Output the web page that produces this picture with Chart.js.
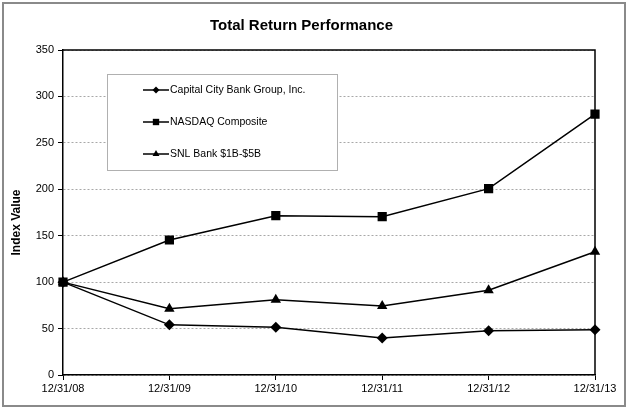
<!DOCTYPE html>
<html>
<head>
<meta charset="utf-8">
<script src="https://cdn.jsdelivr.net/npm/chart.js@4"></script>
<style>
html,body{margin:0;padding:0;background:#fff;}
#wrap{width:628px;height:409px;position:relative;}
</style>
</head>
<body>
<div id="wrap"><canvas id="c" width="628" height="409"></canvas></div>
<script>
const categories = ["12/31/08","12/31/09","12/31/10","12/31/11","12/31/12","12/31/13"];
const capitalCity = [100, 54, 51.3, 39.8, 47.7, 48.8];
const nasdaq = [100, 145.4, 171.6, 170.5, 200.7, 281];
const snlBank = [100, 71.4, 81.1, 74.3, 91.2, 132.8];
const seriesNames = ["Capital City Bank Group, Inc.", "NASDAQ Composite", "SNL Bank $1B-$5B"];
const yTicks = [0, 50, 100, 150, 200, 250, 300, 350];
const yTitle = "Index Value";

const FONT = "'Liberation Sans', Arial, sans-serif";

const framePlugin = {
  id: 'frame',
  beforeDraw(chart) {
    const ctx = chart.ctx;
    ctx.save();
    ctx.fillStyle = '#fff';
    ctx.fillRect(0, 0, chart.width, chart.height);
    ctx.strokeStyle = '#8a8a8a';
    ctx.lineWidth = 2;
    ctx.strokeRect(3, 3, chart.width - 6, chart.height - 6);
    ctx.restore();
  },
  afterDatasetsDraw(chart) {
    const ctx = chart.ctx;
    const a = chart.chartArea;
    ctx.save();
    ctx.strokeStyle = '#000';
    ctx.lineWidth = 1.5;
    ctx.beginPath();
    ctx.moveTo(a.left, a.top);
    ctx.lineTo(a.right, a.top);
    ctx.lineTo(a.right, a.bottom);
    ctx.stroke();
    ctx.restore();
  },
  afterDraw(chart) {
    const ctx = chart.ctx;
    const a = chart.chartArea;
    // y axis title
    ctx.save();
    ctx.translate(17, (a.top + a.bottom) / 2 + 10);
    ctx.rotate(-Math.PI / 2);
    ctx.fillStyle = '#000';
    ctx.font = 'bold 12px ' + FONT;
    ctx.textAlign = 'center';
    ctx.textBaseline = 'middle';
    ctx.fillText(yTitle, 0, 0);
    ctx.restore();
    // custom legend box inside plot area
    const bx = a.left + 44, by = a.top + 24, bw = 230, bh = 96;
    ctx.save();
    ctx.fillStyle = '#fff';
    ctx.fillRect(bx, by, bw, bh);
    ctx.strokeStyle = '#b0b0b0';
    ctx.lineWidth = 1;
    ctx.strokeRect(bx + 0.5, by + 0.5, bw, bh);
    chart.data.datasets.forEach((ds, i) => {
      const y = by + 16 + i * 32;
      const x0 = bx + 36, x1 = bx + 62;
      ctx.strokeStyle = '#000';
      ctx.lineWidth = 1.5;
      ctx.beginPath();
      ctx.moveTo(x0, y);
      ctx.lineTo(x1, y);
      ctx.stroke();
      ctx.fillStyle = '#000';
      Chart.helpers.drawPoint(ctx, {
        pointStyle: ds.pointStyle,
        radius: ds.legendRadius,
        rotation: 0,
        borderWidth: 0
      }, (x0 + x1) / 2, y);
      ctx.fillStyle = '#000';
      ctx.font = '10.5px ' + FONT;
      ctx.textBaseline = 'middle';
      ctx.textAlign = 'left';
      ctx.fillText(ds.label, x1 + 1, y);
    });
    ctx.restore();
  }
};

new Chart(document.getElementById('c'), {
  type: 'line',
  data: {
    labels: categories,
    datasets: [
      { label: seriesNames[0], data: capitalCity, pointStyle: 'rectRot', pointRadius: 5.5, legendRadius: 3.5 },
      { label: seriesNames[1], data: nasdaq, pointStyle: 'rect', pointRadius: 6.5, legendRadius: 4.5 },
      { label: seriesNames[2], data: snlBank, pointStyle: 'triangle', pointRadius: 6, legendRadius: 4 }
    ].map(d => Object.assign({
      borderColor: '#000',
      backgroundColor: '#000',
      pointBackgroundColor: '#000',
      pointBorderColor: '#000',
      pointBorderWidth: 0,
      pointHoverRadius: 6,
      borderWidth: 1.5,
      tension: 0,
      fill: false
    }, d))
  },
  options: {
    responsive: false,
    animation: false,
    devicePixelRatio: 1,
    layout: { padding: { left: 8, right: 33, top: 0, bottom: 4 } },
    plugins: {
      legend: { display: false },
      tooltip: { enabled: false },
      title: {
        display: true,
        text: 'Total Return Performance',
        color: '#000',
        font: { family: FONT, size: 15, weight: 'bold' },
        padding: { top: 17, bottom: 15 }
      }
    },
    scales: {
      x: {
        type: 'category',
        offset: false,
        grid: { drawOnChartArea: false, drawTicks: true, tickLength: 5, tickColor: '#000', tickWidth: 1 },
        border: { display: true, color: '#000', width: 1.5 },
        ticks: { color: '#000', font: { family: FONT, size: 11 }, padding: 2, maxRotation: 0, autoSkip: false },
        afterFit(scale) { scale.height = 30; }
      },
      y: {
        min: 0,
        max: 350,
        afterBuildTicks(scale) { scale.ticks = yTicks.map(v => ({ value: v })); },
        grid: {
          drawOnChartArea: true,
          drawTicks: true,
          tickLength: 5,
          color: '#a8a8a8',
          tickColor: '#000',
          lineWidth: 1
        },
        border: { display: true, color: '#000', width: 1.5, dash: [2, 2] },
        ticks: { color: '#000', font: { family: FONT, size: 11 }, padding: 4 },
        title: { display: false },
        afterFit(scale) { scale.width = 55; }
      }
    }
  },
  plugins: [framePlugin]
});
</script>
</body>
</html>
